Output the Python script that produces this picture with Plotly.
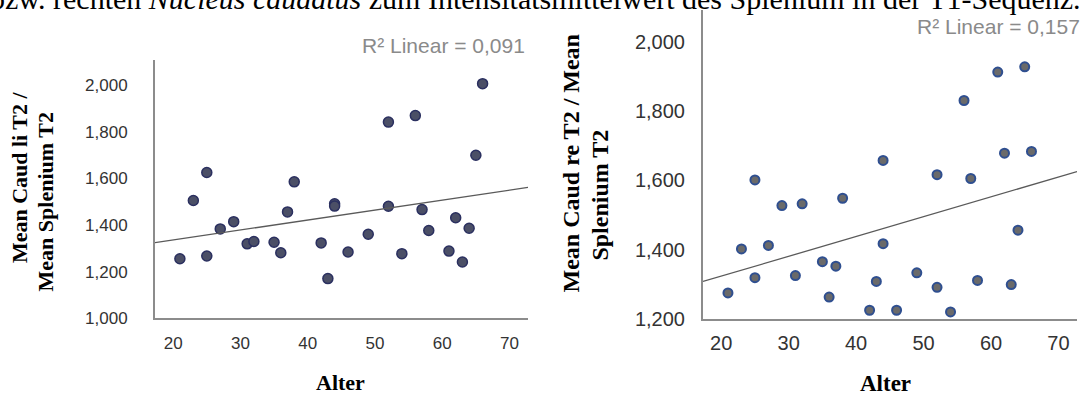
import numpy as np
import plotly.graph_objects as go

# Age of each subject (shared by both panels)
alter = [21, 23, 25, 25, 27, 29, 31, 32, 35, 36, 37, 38, 42, 43, 44, 44,
         46, 49, 52, 52, 54, 56, 57, 58, 61, 62, 63, 64, 65, 66]

# Ratio left caudate / splenium (T2)
caud_li = [1.255, 1.505, 1.625, 1.267, 1.383, 1.414, 1.319, 1.329, 1.326, 1.281,
           1.456, 1.585, 1.323, 1.170, 1.491, 1.481, 1.284, 1.360, 1.841, 1.480,
           1.277, 1.869, 1.466, 1.376, 1.288, 1.431, 1.241, 1.386, 1.699, 2.006]

# Ratio right caudate / splenium (T2)
caud_re = [1.275, 1.402, 1.601, 1.319, 1.412, 1.527, 1.325, 1.532, 1.365, 1.263,
           1.352, 1.548, 1.225, 1.308, 1.657, 1.417, 1.225, 1.333, 1.616, 1.291,
           1.220, 1.830, 1.605, 1.311, 1.912, 1.678, 1.299, 1.456, 1.927, 1.683]

x_ticks = [20, 30, 40, 50, 60, 70]
y_ticks_li = [1.0, 1.2, 1.4, 1.6, 1.8, 2.0]
y_ticks_re = [1.2, 1.4, 1.6, 1.8, 2.0]

r2_li = "R² Linear = 0,091"
r2_re = "R² Linear = 0,157"

W, H = 1085, 410
X_RANGE = [17.3, 72.75]

def px_x(p):
    return p / W

def px_y(p):
    return 1 - p / H

fig = go.Figure()

def fit_line(x, y):
    k, d = np.polyfit(x, y, 1)
    xs = np.array(X_RANGE)
    return xs, k * xs + d

# left panel
fig.add_trace(go.Scatter(
    x=alter, y=caud_li, mode="markers", xaxis="x", yaxis="y",
    marker=dict(size=10, color="#4b4f66", line=dict(color="#2b3060", width=1.5)),
    showlegend=False, hoverinfo="skip"))
lx, ly = fit_line(alter, caud_li)
fig.add_trace(go.Scatter(
    x=lx, y=ly, mode="lines", xaxis="x", yaxis="y",
    line=dict(color="#5a5a5a", width=1.3), showlegend=False, hoverinfo="skip"))

# right panel
fig.add_trace(go.Scatter(
    x=alter, y=caud_re, mode="markers", xaxis="x2", yaxis="y2",
    marker=dict(size=9, color="#6a6a6a", line=dict(color="#2f4f90", width=2)),
    showlegend=False, hoverinfo="skip"))
rx, ry = fit_line(alter, caud_re)
fig.add_trace(go.Scatter(
    x=rx, y=ry, mode="lines", xaxis="x2", yaxis="y2",
    line=dict(color="#5a5a5a", width=1.3), showlegend=False, hoverinfo="skip"))

tick_font_l = dict(family="Liberation Sans, Arial", size=17, color="#333333")
tick_font_r = dict(family="Liberation Sans, Arial", size=20, color="#333333")

common_x = dict(range=X_RANGE, tickvals=x_ticks, showgrid=False, zeroline=False,
                showline=True, linewidth=2, linecolor="#8c8c8c", ticks="",
                fixedrange=True)
common_y = dict(showgrid=False, zeroline=False, showline=True, linewidth=2,
                linecolor="#8c8c8c", ticks="", tickformat=".3f", fixedrange=True)

fig.update_layout(
    width=W, height=H,
    margin=dict(l=0, r=0, t=0, b=0),
    paper_bgcolor="white", plot_bgcolor="white",
    separators=",.",
    xaxis=dict(common_x, domain=[px_x(155), px_x(528)], anchor="y",
               tickfont=tick_font_l, ticklabelstandoff=8),
    yaxis=dict(common_y, domain=[px_y(327), px_y(61.5)], anchor="x",
               range=[1.0, 2.108], tickvals=y_ticks_li,
               tickfont=tick_font_l, ticklabelstandoff=22),
    xaxis2=dict(common_x, domain=[px_x(703), px_x(1077)], anchor="y2",
                tickfont=tick_font_r, ticklabelstandoff=5),
    yaxis2=dict(common_y, domain=[px_y(327.7), px_y(10.3)], anchor="x2",
                range=[1.2, 2.091], tickvals=y_ticks_re,
                tickfont=tick_font_r, ticklabelstandoff=12),
)

serif_bold = "Liberation Serif, Times New Roman"

def ann(text, x, y, size, angle=0, xanchor="center", yanchor="middle",
        color="black", family=serif_bold, bold=True):
    t = f"<b>{text}</b>" if bold else text
    fig.add_annotation(text=t, x=px_x(x), y=px_y(y), xref="paper", yref="paper",
                       xanchor=xanchor, yanchor=yanchor, showarrow=False,
                       textangle=angle, font=dict(family=family, size=size, color=color))

# caption line running along the top edge
ann("bzw. rechten <i>Nucleus caudatus</i> zum Intensitätsmittelwert des Splenium in der T1-Sequenz.",
    -12, 17.5, 30, xanchor="left", yanchor="bottom", bold=False)

# axis titles
ann("Mean Caud li T2 /", 19, 182, 22, angle=-90)
ann("Mean Splenium T2", 45, 208, 22, angle=-90)
ann("Alter", 340, 393, 22)

ann("Mean Caud re T2 / Mean", 571, 168, 24, angle=-90)
ann("Splenium T2", 600, 201, 24, angle=-90)
ann("Alter", 885, 394, 23)

# fit statistics
sans = "Liberation Sans, Arial"
ann(r2_li, 527, 47, 21, xanchor="right", color="#8a8a8a", family=sans, bold=False)
ann(r2_re, 1082, 27, 21, xanchor="right", color="#8a8a8a", family=sans, bold=False)

fig.write_html("out.html")
